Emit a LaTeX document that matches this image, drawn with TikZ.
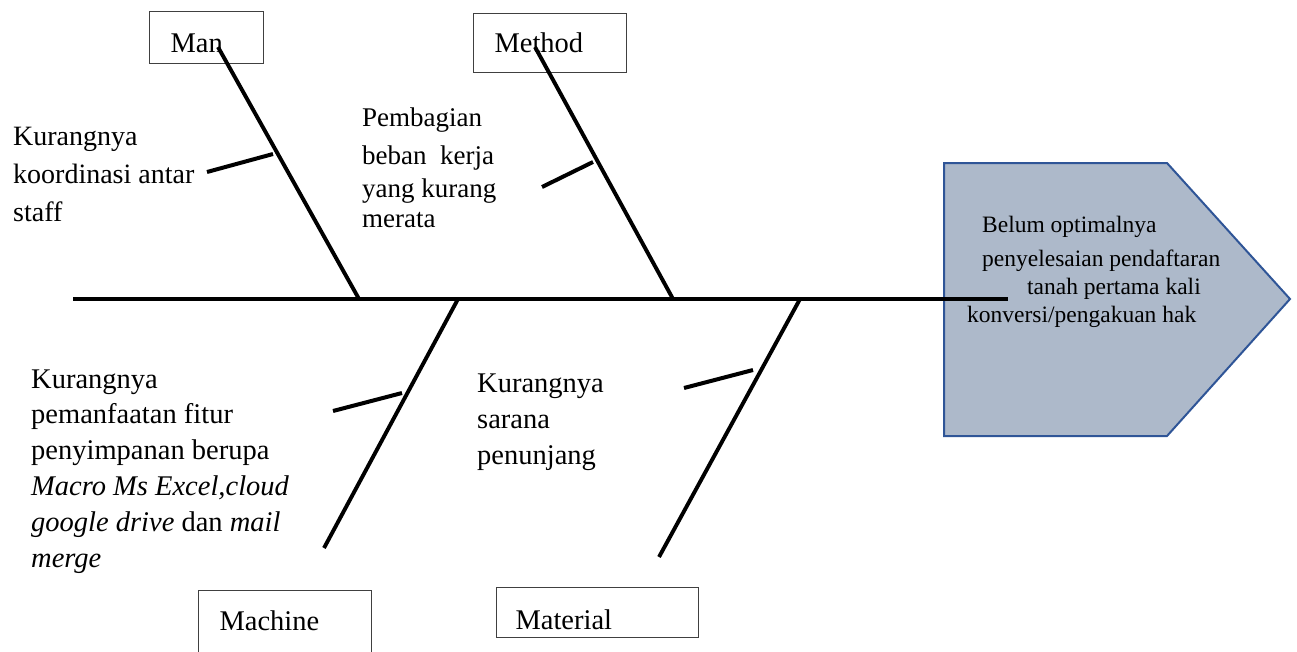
\documentclass[tikz,border=0pt]{standalone}
\usepackage{fontspec}
\setmainfont{Liberation Serif}
\definecolor{headfill}{RGB}{173,185,202}
\definecolor{headline}{RGB}{47,85,151}
\definecolor{boxline}{RGB}{64,64,64}
\newcommand{\myline}[1]{\hbox{#1}}
\tikzset{
  bone/.style={line width=3.9pt},
  subbone/.style={line width=4pt},
  catbox/.style={draw=boxline, line width=1.1pt, anchor=north west, inner ysep=0pt,
    align=left, font=\fontsize{28.5}{34}\selectfont},
  cause/.style={anchor=base west, inner sep=0pt},
  headshape/.style={fill=headfill, draw=headline, line width=2pt, line join=miter},
}
\begin{document}
\begin{tikzpicture}[x=1pt,y=-1pt]
\useasboundingbox (0,0) rectangle (1297,651);

% head
\coordinate (h1) at (944,163);
\coordinate (h2) at (1167,163);
\coordinate (h3) at (1290,299);
\coordinate (h4) at (1167,436);
\coordinate (h5) at (944,436);
\draw[headshape] (h1) -- (h2) -- (h3) -- (h4) -- (h5) -- cycle;
\node[cause, font=\fontsize{23.5}{28}\selectfont] (effect) at (967,232)
  {\vtop{\myline{\kern15pt Belum optimalnya}\vskip6pt
         \myline{\kern15pt penyelesaian pendaftaran}
         \myline{\kern60pt tanah pertama kali}
         \myline{konversi/pengakuan hak}}};

% category boxes
\node[catbox, inner xsep=21pt, text width=72pt, text height=41pt, text depth=11pt] (man) at (149,11) {Man};
\node[catbox, inner xsep=21pt, text width=111pt, text height=39pt, text depth=20pt] (method) at (473,13) {Method};
\node[catbox, inner xsep=21pt, text width=131pt, text height=40pt, text depth=32pt] (machine) at (198,590) {Machine};
\node[catbox, inner xsep=19pt, text width=164pt, text height=42pt, text depth=8pt] (material) at (496,587) {Material};

% spine
\coordinate (tail) at (73,299);
\coordinate (headend) at (1008,299);
\draw[bone] (tail) -- (headend);

% bones
\coordinate (manA) at (218,47);   \coordinate (manB) at (359,299);
\coordinate (metA) at (535,47);   \coordinate (metB) at (673,299);
\coordinate (macA) at (458,299);  \coordinate (macB) at (324,548);
\coordinate (matA) at (800,299);  \coordinate (matB) at (659,557);
\draw[bone] (manA) -- (manB);
\draw[bone] (metA) -- (metB);
\draw[bone] (macA) -- (macB);
\draw[bone] (matA) -- (matB);

% sub bones
\coordinate (s1a) at (207,172); \coordinate (s1b) at (273,154);
\coordinate (s2a) at (542,187); \coordinate (s2b) at (593,162);
\coordinate (s3a) at (333,411); \coordinate (s3b) at (402,393);
\coordinate (s4a) at (684,388); \coordinate (s4b) at (753,370);
\draw[subbone] (s1a) -- (s1b);
\draw[subbone] (s2a) -- (s2b);
\draw[subbone] (s3a) -- (s3b);
\draw[subbone] (s4a) -- (s4b);

% causes
\node[cause, font=\fontsize{28}{38}\selectfont] (c1) at (13,145)
  {\vtop{\myline{Kurangnya}\myline{koordinasi antar}\myline{staff}}};
\node[cause, font=\fontsize{27}{33}\selectfont] (c2) at (362,126)
  {\vtop{\myline{Pembagian}\vskip5pt\myline{beban\ \ kerja}\myline{yang kurang}\vskip-3pt\myline{merata}}};
\node[cause, font=\fontsize{28.5}{35.8}\selectfont] (c3) at (31,388)
  {\vtop{\myline{Kurangnya}\myline{pemanfaatan fitur}\myline{penyimpanan berupa}
         \myline{\textit{Macro Ms Excel,cloud}}\myline{\textit{google drive} dan \textit{mail}}
         \myline{\textit{merge}}}};
\node[cause, font=\fontsize{28.5}{36}\selectfont] (c4) at (477,392)
  {\vtop{\myline{Kurangnya}\myline{sarana}\myline{penunjang}}};
\end{tikzpicture}
\end{document}
